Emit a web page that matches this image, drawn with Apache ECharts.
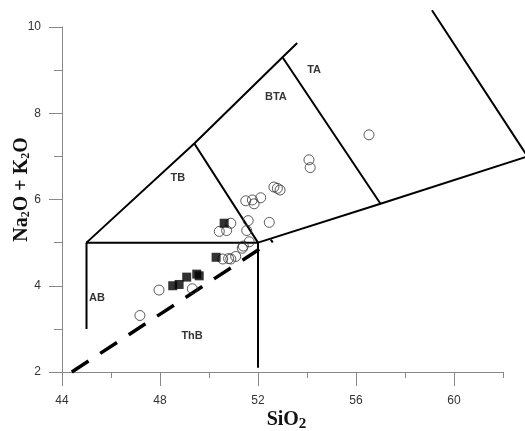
<!DOCTYPE html>
<html>
<head>
<meta charset="utf-8">
<script src="https://cdn.jsdelivr.net/npm/echarts@6/dist/echarts.min.js"></script>
<style>
html,body{margin:0;padding:0;background:#fff;}
#chart{width:525px;height:431px;}
</style>
</head>
<body>
<div id="chart"></div>
<script>
// sample points
var circleSiO2 = [47.96,47.18,49.32,50.56,50.89,50.80,51.09,51.36,51.40,51.64,50.42,50.72,50.89,51.54,51.60,52.46,51.50,51.77,51.84,52.11,52.65,52.79,52.90,54.08,54.13,56.53];
var circleAlk  = [3.90,3.31,3.93,4.62,4.62,4.63,4.68,4.87,4.92,5.02,5.26,5.28,5.45,5.28,5.51,5.47,5.97,5.99,5.90,6.04,6.29,6.26,6.22,6.92,6.74,7.50];
var squareSiO2 = [50.62,50.29,48.52,48.78,49.09,49.50,49.60];
var squareAlk  = [5.45,4.66,4.00,4.03,4.20,4.27,4.23];

// field boundaries
var abLine   = [[45,3],[45,5],[52,5]];
var thbLine  = [[52,5],[52,2.1]];
var tbTop    = [[45,5],[49.4,7.3],[53,9.3],[53.6,9.63]];
var tbBta    = [[49.4,7.3],[52,5]];
var btaTa    = [[53,9.3],[57,5.9]];
var taBottom = [[52,5],[57,5.9],[63,7]];
var taTop    = [[59.1,10.39],[63,7]];
var divider  = [[44.4,2],[52.6,5.05]];

var fieldNames = ['TA','BTA','TB','AB','ThB'];
var fieldX = [54.29,52.73,48.73,45.43,49.31];
var fieldY = [9.01,8.37,6.5,3.72,2.84];

var xMajor = [44,48,52,56,60];
var xMinor = [46,50,54,58,62];

function pairs(xs, ys){
	var out = [];
	for (var i = 0; i < xs.length; i++) out.push([xs[i], ys[i]]);
	return out;
}

// boundaries live on a hidden, slightly wider grid so they run past the axis end
function boundary(data, dashed){
	return {
		type:'line',
		xAxisIndex:2,
		yAxisIndex:1,
		data:data,
		symbol:'none',
		clip:false,
		silent:true,
		z:1,
		lineStyle:{
			color:'#000',
			width: dashed ? 3.5 : 2,
			type: dashed ? [20,14] : 'solid',
			cap:'butt'
		}
	};
}

var chart = echarts.init(document.getElementById('chart'));

var titleFont = {
	fontFamily:'"Liberation Serif","Times New Roman",serif',
	fontWeight:'bold',
	fontSize:20,
	color:'#111'
};
var tickColor = '#888';
var labelFont = '"Liberation Sans",Arial,sans-serif';

var option = {
	animation:false,
	grid:[
		{left:62,right:22,top:27,bottom:59,outerBoundsMode:'none',containLabel:false},
		{left:62,width:465.5,top:27,bottom:59,outerBoundsMode:'none',containLabel:false}
	],
	xAxis:[{
		type:'value',
		min:44,
		max:62,
		name:'SiO{s|2}',
		nameLocation:'middle',
		nameGap:35,
		nameMoveOverlap:false,
		nameTextStyle:Object.assign({}, titleFont, {
			padding:[0,0,0,8],
			rich:{s:{fontFamily:titleFont.fontFamily,fontWeight:'bold',fontSize:15,color:'#111',padding:[10,0,0,0]}}
		}),
		splitLine:{show:false},
		axisLine:{lineStyle:{color:tickColor,width:1}},
		axisTick:{length:14,customValues:xMajor,lineStyle:{color:tickColor}},
		axisLabel:{customValues:xMajor,margin:23,color:'#333',fontSize:12,fontFamily:labelFont}
	},{
		type:'value',
		min:44,
		max:62,
		position:'bottom',
		splitLine:{show:false},
		axisLine:{show:false},
		axisTick:{length:6,customValues:xMinor,lineStyle:{color:tickColor}},
		axisLabel:{show:false}
	},{
		type:'value',
		gridIndex:1,
		min:44,
		max:63,
		show:false
	}],
	yAxis:[{
		type:'value',
		min:2,
		max:10,
		interval:2,
		name:'Na{s|2}O + K{s|2}O',
		nameLocation:'middle',
		nameRotate:90,
		nameGap:30,
		nameMoveOverlap:false,
		nameTextStyle:Object.assign({}, titleFont, {
			padding:[0,0,0,20],
			rich:{s:{fontFamily:titleFont.fontFamily,fontWeight:'bold',fontSize:12,color:'#111',padding:[8,0,0,0]}}
		}),
		splitLine:{show:false},
		axisLine:{show:true,lineStyle:{color:tickColor,width:1}},
		axisTick:{show:true,length:13,lineStyle:{color:tickColor}},
		minorTick:{show:true,splitNumber:2,length:8,lineStyle:{color:tickColor}},
		axisLabel:{margin:21,color:'#333',fontSize:12,fontFamily:labelFont}
	},{
		type:'value',
		gridIndex:1,
		min:2,
		max:10,
		show:false
	}],
	series:[
		boundary(abLine),
		boundary(thbLine),
		boundary(tbTop),
		boundary(tbBta),
		boundary(btaTa),
		boundary(taBottom),
		boundary(taTop),
		boundary(divider, true),
		{
			type:'scatter',
			data:pairs(circleSiO2, circleAlk),
			symbol:'circle',
			symbolSize:10,
			z:3,
			itemStyle:{color:'rgba(255,255,255,0)',borderColor:'#333',borderWidth:1}
		},
		{
			type:'scatter',
			data:pairs(squareSiO2, squareAlk),
			symbol:'rect',
			symbolSize:9,
			z:4,
			itemStyle:{color:'#000'}
		},
		{
			type:'scatter',
			data:fieldNames.map(function(n, i){ return {name:n, value:[fieldX[i], fieldY[i]]}; }),
			symbolSize:0,
			silent:true,
			z:5,
			label:{
				show:true,
				position:'inside',
				formatter:'{b}',
				color:'#000',
				fontSize:11,
				fontWeight:'bold',
				fontFamily:labelFont
			}
		}
	]
};
chart.setOption(option);
</script>
</body>
</html>
